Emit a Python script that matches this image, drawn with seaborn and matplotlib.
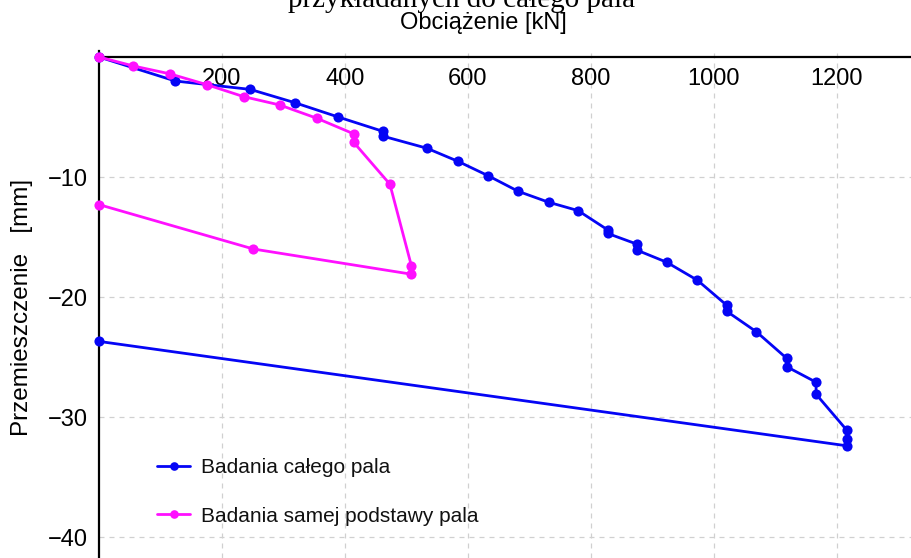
import matplotlib
matplotlib.use("Agg")
import matplotlib.pyplot as plt
import seaborn as sns
import pandas as pd

# Data
blue_label = "Badania całego pala"
blue_x = [0, 124, 246, 318, 389, 462, 462, 533, 584, 633, 682, 731, 779, 827, 827,
          875, 875, 923, 973, 1021, 1021, 1069, 1118, 1118, 1166, 1166, 1216, 1216, 1216, 0]
blue_y = [0, -2.0, -2.7, -3.8, -5.0, -6.2, -6.6, -7.6, -8.7, -9.9, -11.2, -12.1, -12.8, -14.4, -14.7,
          -15.6, -16.1, -17.1, -18.6, -20.7, -21.2, -22.9, -25.1, -25.8, -27.1, -28.1, -31.1, -31.8, -32.4, -23.7]

pink_label = "Badania samej podstawy pala"
pink_x = [0, 56, 115, 175, 235, 294, 354, 414, 414, 473, 508, 508, 251, 0]
pink_y = [0, -0.75, -1.4, -2.3, -3.3, -4.0, -5.1, -6.4, -7.1, -10.6, -17.4, -18.1, -16.0, -12.3]

x_ticks = [200, 400, 600, 800, 1000, 1200]
y_ticks = [-10, -20, -30, -40]

title_text = "przykładanych do całego pala"
x_label = "Obciążenie [kN]"
y_label = "Przemieszczenie   [mm]"

df = pd.concat([
    pd.DataFrame({"x": blue_x, "y": blue_y, "series": blue_label}),
    pd.DataFrame({"x": pink_x, "y": pink_y, "series": pink_label}),
], ignore_index=True)

sns.set_theme(style="white")
plt.rcParams["font.family"] = ["Liberation Sans", "DejaVu Sans"]
plt.rcParams["axes.unicode_minus"] = True

fig = plt.figure(figsize=(9.12, 5.58), dpi=100)
ax = fig.add_axes([99 / 912, 0, (912 - 99) / 912, (558 - 51) / 558])

sns.lineplot(data=df, x="x", y="y", hue="series", sort=False, estimator=None,
             palette={blue_label: "#0505f5", pink_label: "#ff10ff"},
             marker="o", markersize=7.3, markeredgewidth=0, linewidth=2.0,
             ax=ax, clip_on=False, legend=True)

ax.set_xlim(0, 1322)
ax.set_ylim(-41.75, 0.5)
ax.set_xticks(x_ticks)
ax.set_yticks(y_ticks)

for side in ["top", "right"]:
    ax.spines[side].set_visible(False)
ax.spines["bottom"].set_position(("data", 0))
ax.spines["left"].set_position(("data", 0))
for side in ["bottom", "left"]:
    ax.spines[side].set_color("black")
    ax.spines[side].set_linewidth(1.6)
    ax.spines[side].set_zorder(1)

ax.tick_params(axis="both", labelsize=17, colors="black", length=3, width=1, direction="out", pad=5)
ax.grid(True, color="#d0d0d0", linestyle=(0, (4, 4)), linewidth=0.9)
ax.set_axisbelow(True)
ax.set_xlabel("")
ax.set_ylabel("")

fig.text(483 / 912, 1 - 23 / 558, x_label, ha="center", va="center", fontsize=17, color="black")
fig.text(22 / 912, 1 - 307 / 558, y_label, ha="center", va="center", rotation=90, fontsize=17.5, color="black")
fig.text(462 / 912, 1 - 7 / 558, title_text, ha="center", va="baseline", fontsize=21,
         family=["Liberation Serif", "DejaVu Serif"], color="black")

leg = ax.legend(loc="center left", bbox_to_anchor=(157 / 912, 1 - 492 / 558),
                bbox_transform=fig.transFigure, frameon=False, fontsize=15,
                handlelength=1.6, handletextpad=0.5, labelspacing=1.4,
                borderpad=0, borderaxespad=0, markerscale=0.85)
for t in leg.get_texts():
    t.set_color("#111111")

fig.savefig("out.png", dpi=100)
